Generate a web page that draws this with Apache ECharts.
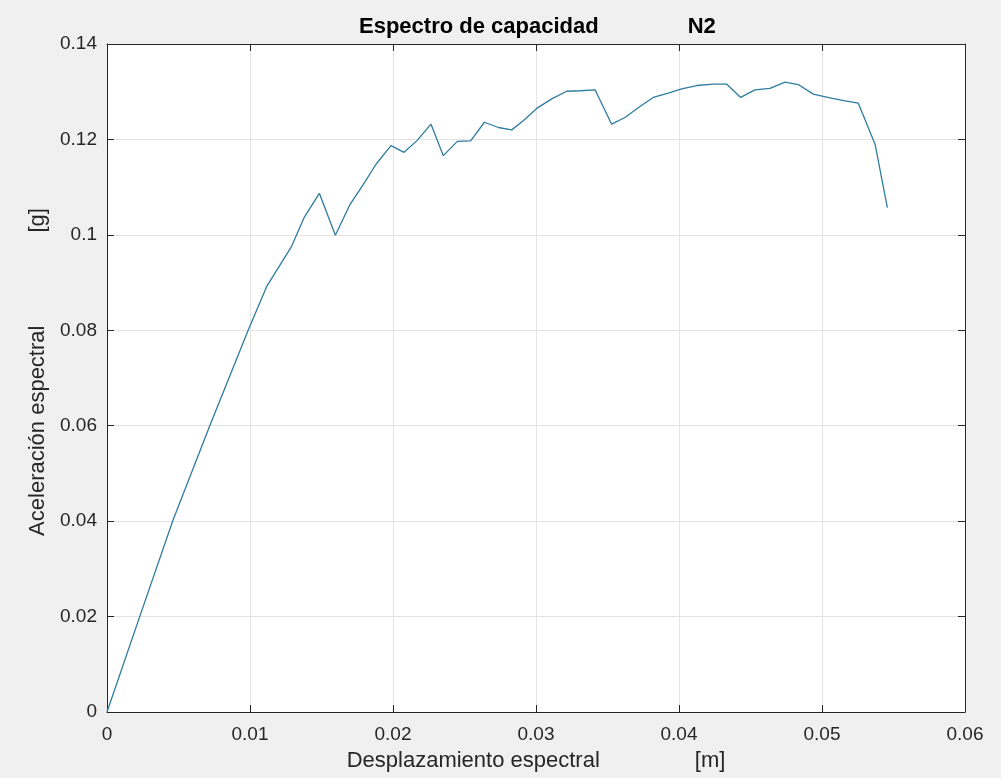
<!DOCTYPE html>
<html>
<head>
<meta charset="utf-8">
<script src="https://cdn.jsdelivr.net/npm/echarts@6/dist/echarts.min.js"></script>
<style>
html,body{margin:0;padding:0;background:#f0f0f0;}
#chart{width:1001px;height:778px;}
</style>
</head>
<body>
<div id="chart"></div>
<script>
var titleMain = 'Espectro de capacidad';
var titleTag = 'N2';
var xName = 'Desplazamiento espectral';
var xUnit = '[m]';
var yName = 'Aceleración espectral';
var yUnit = '[g]';

var sd = [0, 0.0023, 0.0046, 0.0072, 0.0099, 0.01117, 0.01291, 0.01378, 0.01485, 0.01597,
  0.0170, 0.01793, 0.01881, 0.01986, 0.02077, 0.02166, 0.02266, 0.02352, 0.0245, 0.02543,
  0.02639, 0.02737, 0.0283, 0.02911, 0.03005, 0.0311, 0.03215, 0.0331, 0.03413, 0.03529,
  0.03622, 0.03727, 0.0382, 0.03925, 0.04019, 0.04124, 0.0424, 0.04333, 0.04431, 0.04531,
  0.04636, 0.04741, 0.04834, 0.04939, 0.05056, 0.05161, 0.05254, 0.05371, 0.05457];
var sa = [0, 0.0201, 0.0401, 0.0601, 0.0802, 0.0892, 0.0976, 0.1036, 0.1087, 0.0999,
  0.1064, 0.1106, 0.1148, 0.1187, 0.1173, 0.1197, 0.1232, 0.1166, 0.1196, 0.1197,
  0.1236, 0.1225, 0.1220, 0.1239, 0.1265, 0.1285, 0.1301, 0.1302, 0.1304, 0.1232,
  0.1246, 0.1269, 0.1288, 0.1297, 0.1306, 0.1313, 0.1316, 0.1316, 0.1288, 0.1304,
  0.1307, 0.1320, 0.1315, 0.1295, 0.1287, 0.1281, 0.1276, 0.1190, 0.1057];

var xMin = 0, xMax = 0.06, xStep = 0.01;
var yMin = 0, yMax = 0.14, yStep = 0.02;

var points = sd.map(function (x, i) { return [x, sa[i]]; });

var FONT = '"Liberation Sans", Arial, sans-serif';
var TXT = '#262626';
var fmt = function (v) { return String(+v.toFixed(4)); };

var chart = echarts.init(document.getElementById('chart'), null, {renderer: 'canvas'});

var axisCommon = {
  axisLine: {show: true, onZero: false, lineStyle: {color: TXT, width: 1}},
  axisTick: {show: true, inside: true, length: 7, lineStyle: {color: TXT}},
};

chart.setOption({
  backgroundColor: '#f0f0f0',
  animation: false,
  title: {
    text: '{t|' + titleMain + '}{g|}{t|' + titleTag + '}',
    left: 354,
    top: 11,
    textStyle: {
      rich: {
        t: {fontFamily: FONT, fontSize: 22, fontWeight: 'bold', color: '#000'},
        g: {width: 89}
      }
    }
  },
  grid: {
    left: 107, right: 36, top: 44, bottom: 66,
    show: true, backgroundColor: '#ffffff', borderWidth: 0
  },
  xAxis: [
    Object.assign({
      type: 'value', min: xMin, max: xMax, interval: xStep, position: 'bottom',
      name: '{a|' + xName + '}{g|}{a|' + xUnit + '}',
      nameLocation: 'middle', nameGap: 38,
      nameTextStyle: {
        rich: {a: {fontFamily: FONT, fontSize: 22, color: TXT}, g: {width: 95}}
      },
      axisLabel: {fontFamily: FONT, fontSize: 19, color: TXT, margin: 13, formatter: fmt},
      splitLine: {show: true, lineStyle: {color: '#e3e3e3', width: 1}}
    }, axisCommon),
    Object.assign({
      type: 'value', min: xMin, max: xMax, interval: xStep, position: 'top',
      axisLabel: {show: false}, splitLine: {show: false}
    }, axisCommon)
  ],
  yAxis: [
    Object.assign({
      type: 'value', min: yMin, max: yMax, interval: yStep, position: 'left',
      name: '{p|}{a|' + yName + '}{g|}{a|' + yUnit + '}',
      nameLocation: 'middle', nameGap: 54,
      nameTextStyle: {
        rich: {a: {fontFamily: FONT, fontSize: 22, color: TXT}, g: {width: 93}, p: {width: 12}}
      },
      axisLabel: {fontFamily: FONT, fontSize: 19, color: TXT, margin: 10, formatter: fmt},
      splitLine: {show: true, lineStyle: {color: '#e3e3e3', width: 1}}
    }, axisCommon),
    Object.assign({
      type: 'value', min: yMin, max: yMax, interval: yStep, position: 'right',
      axisLabel: {show: false}, splitLine: {show: false}
    }, axisCommon)
  ],
  series: [{
    type: 'line',
    data: points,
    xAxisIndex: 0, yAxisIndex: 0,
    showSymbol: false,
    symbol: 'none',
    lineStyle: {color: '#2f7ca0', width: 1.3},
    z: 3
  }]
});
</script>
</body>
</html>
